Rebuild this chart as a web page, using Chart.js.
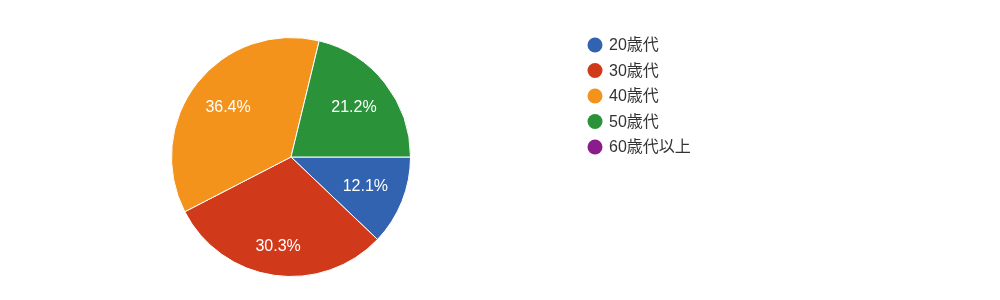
<!DOCTYPE html>
<html><head><meta charset="utf-8">
<script src="https://cdn.jsdelivr.net/npm/chart.js@4"></script>
<style>html,body{margin:0;padding:0;background:#fff;}#wrap{position:relative;width:1000px;height:300px;}</style>
</head><body><div id="wrap"><canvas id="c" width="1000" height="300"></canvas></div>
<script>
const categories = ['20歳代', '30歳代', '40歳代', '50歳代', '60歳代以上'];
const counts = [4, 10, 12, 7, 0];
const percentLabels = ['12.1%', '30.3%', '36.4%', '21.2%', ''];
const colors = ['#3163b0', '#d03a1b', '#f3931c', '#2a933a', '#8b1c8b'];

const sliceLabels = {
  id: 'sliceLabels',
  afterDatasetsDraw(chart) {
    const ctx = chart.ctx;
    const meta = chart.getDatasetMeta(0);
    ctx.save();
    ctx.font = '16px "Liberation Sans", Arial, sans-serif';
    ctx.fillStyle = '#ffffff';
    ctx.textAlign = 'center';
    ctx.textBaseline = 'middle';
    meta.data.forEach((arc, i) => {
      if (!percentLabels[i]) return;
      const mid = (arc.startAngle + arc.endAngle) / 2;
      const vertical = Math.abs(Math.sin(mid)) > 0.95;
      const r = arc.outerRadius * (vertical ? 0.76 : 0.67);
      ctx.fillText(percentLabels[i], arc.x + Math.cos(mid) * r, arc.y + Math.sin(mid) * r);
    });
    ctx.restore();
  }
};

const sideLegend = {
  id: 'sideLegend',
  afterDraw(chart) {
    const ctx = chart.ctx;
    ctx.save();
    ctx.font = '16px "Liberation Sans", Arial, "Noto Sans CJK JP", sans-serif';
    ctx.textAlign = 'left';
    ctx.textBaseline = 'middle';
    chart.data.labels.forEach((lab, i) => {
      const y = 45 + i * 25.5;
      ctx.beginPath();
      ctx.arc(595, y, 7.5, 0, Math.PI * 2);
      ctx.fillStyle = chart.data.datasets[0].backgroundColor[i];
      ctx.fill();
      ctx.fillStyle = '#333333';
      ctx.fillText(lab, 609, y + 1);
    });
    ctx.restore();
  }
};

new Chart(document.getElementById('c'), {
  type: 'pie',
  data: {
    labels: categories,
    datasets: [{
      data: counts,
      backgroundColor: colors,
      borderColor: '#ffffff',
      borderWidth: 1
    }]
  },
  options: {
    responsive: false,
    animation: false,
    rotation: 90,
    layout: { padding: { left: 171, right: 589, top: 37, bottom: 23 } },
    plugins: { legend: { display: false }, tooltip: { enabled: false } }
  },
  plugins: [sliceLabels, sideLegend]
});
</script></body></html>
